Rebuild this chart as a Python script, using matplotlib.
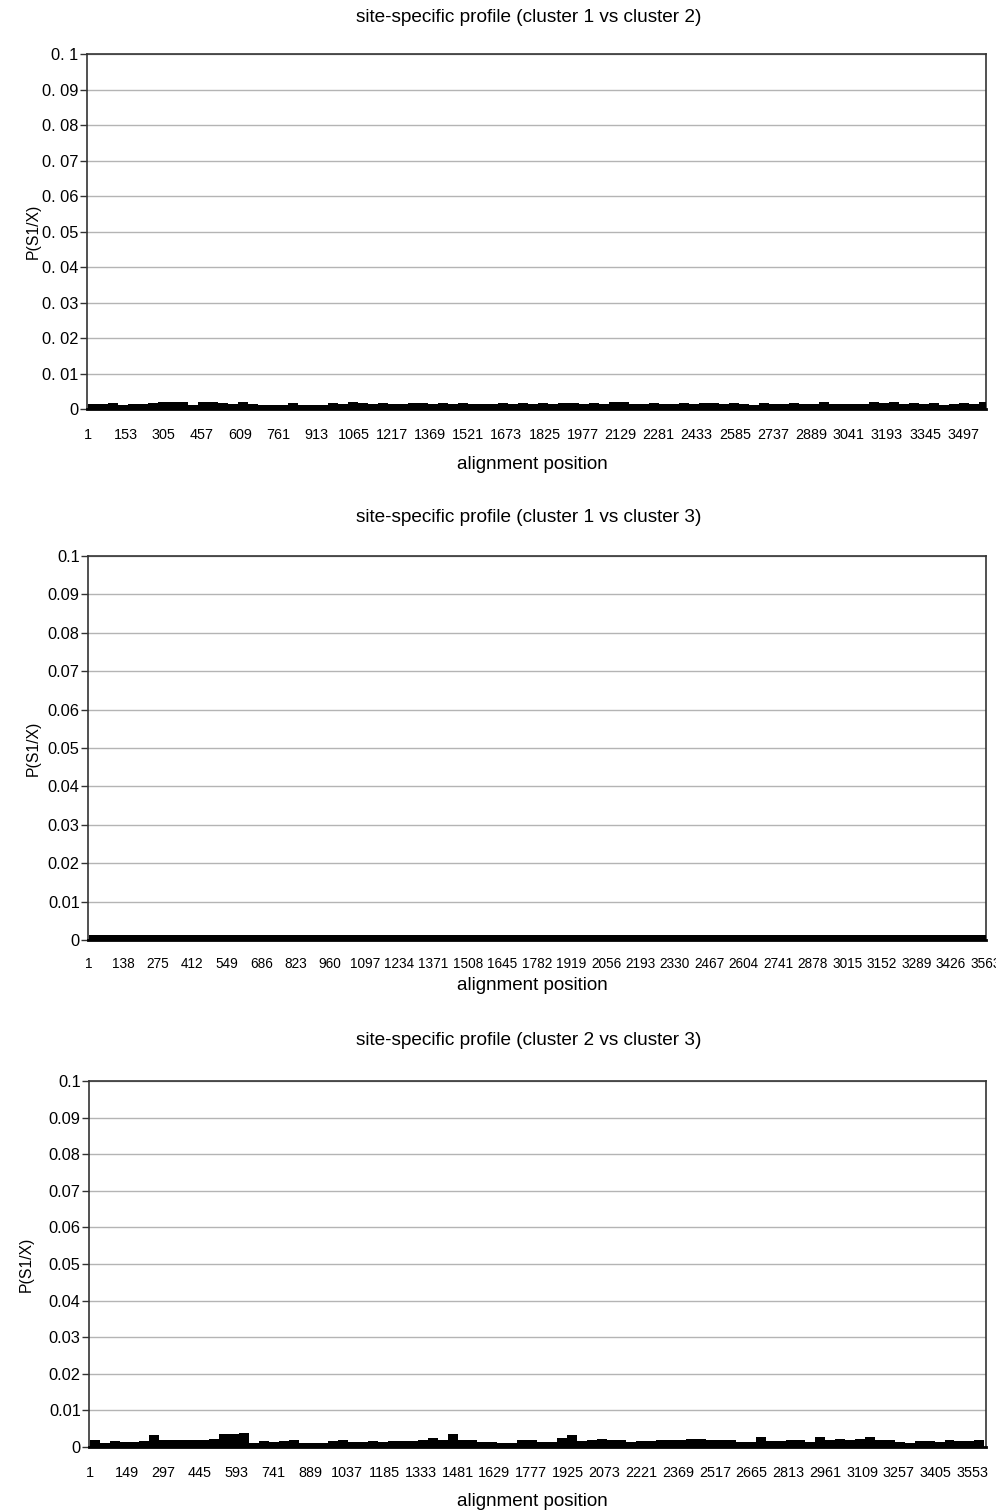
import matplotlib
matplotlib.use("Agg")
import matplotlib.pyplot as plt
import numpy as np

plt.rcParams["font.family"] = ["Liberation Sans", "DejaVu Sans"]

# Mean P(S1/X) per window of 40 alignment positions (units of 1e-3)
BLOCK = 40
P12 = [1.5, 1.3, 1.8, 1.0, 1.3, 1.5, 1.8, 2.0, 1.9, 2.0,
       1.1, 2.0, 1.9, 1.8, 1.3, 2.0, 1.4, 1.0, 1.0, 1.0,
       1.6, 1.0, 1.0, 1.0, 1.6, 1.3, 2.0, 1.8, 1.4, 1.7,
       1.4, 1.5, 1.6, 1.8, 1.5, 1.8, 1.4, 1.7, 1.5, 1.3,
       1.5, 1.7, 1.4, 1.8, 1.5, 1.7, 1.3, 1.8, 1.7, 1.4,
       1.8, 1.4, 2.0, 1.9, 1.3, 1.5, 1.8, 1.3, 1.4, 1.8,
       1.5, 1.8, 1.6, 1.3, 1.8, 1.3, 1.2, 1.7, 1.3, 1.4,
       1.8, 1.3, 1.3, 1.9, 1.3, 1.3, 1.4, 1.5, 2.0, 1.8,
       1.9, 1.5, 1.8, 1.3, 1.6, 1.2, 1.3, 1.8, 1.4, 2.0]
P13 = [1.2] * 90
P23 = [2.0, 1.0, 1.5, 1.4, 1.3, 1.5, 3.2, 1.9, 1.8, 2.0,
       1.8, 2.0, 2.1, 3.5, 3.6, 3.8, 1.2, 1.5, 1.3, 1.6,
       1.8, 1.0, 1.0, 1.1, 1.5, 1.8, 1.3, 1.4, 1.5, 1.3,
       1.5, 1.5, 1.7, 1.8, 2.5, 1.8, 3.6, 2.0, 1.8, 1.4,
       1.3, 1.2, 1.2, 1.8, 1.9, 1.4, 1.3, 2.5, 3.3, 1.7,
       1.9, 2.1, 2.0, 2.0, 1.3, 1.5, 1.6, 1.8, 1.8, 1.9,
       2.2, 2.2, 2.0, 1.8, 1.8, 1.4, 1.3, 2.8, 1.5, 1.6,
       1.8, 1.8, 1.3, 2.8, 2.0, 2.1, 1.9, 2.2, 2.8, 2.0,
       1.8, 1.3, 1.0, 1.7, 1.6, 1.3, 1.8, 1.5, 1.6, 2.0]

TITLES = ["site-specific profile (cluster 1 vs cluster 2)",
          "site-specific profile (cluster 1 vs cluster 3)",
          "site-specific profile (cluster 2 vs cluster 3)"]
TICK_STEP = [152, 137, 148]
N_SITES = [3588, 3566, 3608]
Y_TICKS = np.round(np.arange(0, 0.1001, 0.01), 2)

# axes rectangles in figure fraction: left, bottom, width, height
RECTS = [(0.0873, 0.7293, 0.9026, 0.2349),
         (0.0884, 0.3779, 0.9016, 0.2541),
         (0.0894, 0.0424, 0.9006, 0.2422)]
TITLE_Y = [0.9887, 0.6578, 0.3117]
XLABEL_Y = [0.6929, 0.3475, 0.0066]
YLABEL_X = [0.033, 0.033, 0.026]
XT_SIZE = [10.4, 9.8, 10.4]
XT_PAD = [14, 12, 14]


def ytick_text(v, spaced):
    if v == 0:
        return "0"
    s = f"{v:.2f}".rstrip("0")
    return s.replace(".", ". ") if spaced else s


fig = plt.figure(figsize=(9.96, 15.11), dpi=100)

for k, vals in enumerate([P12, P13, P23]):
    ax = fig.add_axes(RECTS[k])
    h = np.array(vals) * 1e-3
    starts = 1 + BLOCK * np.arange(len(h))
    ax.bar(starts, h, width=BLOCK, align="edge", color="black", linewidth=0, zorder=3)

    ax.set_xlim(-2, N_SITES[k])
    ax.set_ylim(0, 0.1)
    ax.set_yticks(Y_TICKS)
    ax.set_yticklabels([ytick_text(v, k == 0) for v in Y_TICKS], fontsize=11.8)
    ax.yaxis.grid(True, color="#b4b4b4", lw=1.0, zorder=0)
    ax.tick_params(axis="y", length=5, width=1, color="#333333", pad=1)

    xt = np.arange(1, N_SITES[k], TICK_STEP[k])
    ax.set_xticks(xt)
    ax.set_xticklabels([str(t) for t in xt], fontsize=XT_SIZE[k])
    ax.tick_params(axis="x", length=0, pad=XT_PAD[k])

    for side in ("top", "right", "left"):
        ax.spines[side].set_color("#333333")
        ax.spines[side].set_linewidth(1.2)
    ax.spines["bottom"].set_color("black")
    ax.spines["bottom"].set_linewidth(2.0)

    fig.text(0.531, TITLE_Y[k], TITLES[k], ha="center", va="center", fontsize=13.7)
    fig.text(0.535, XLABEL_Y[k], "alignment position", ha="center", va="center", fontsize=13.5)
    yc = RECTS[k][1] + RECTS[k][3] / 2
    fig.text(YLABEL_X[k], yc, "P(S1/X)", rotation=90, ha="center", va="center", fontsize=11.3)

fig.savefig("out.png", dpi=100)
